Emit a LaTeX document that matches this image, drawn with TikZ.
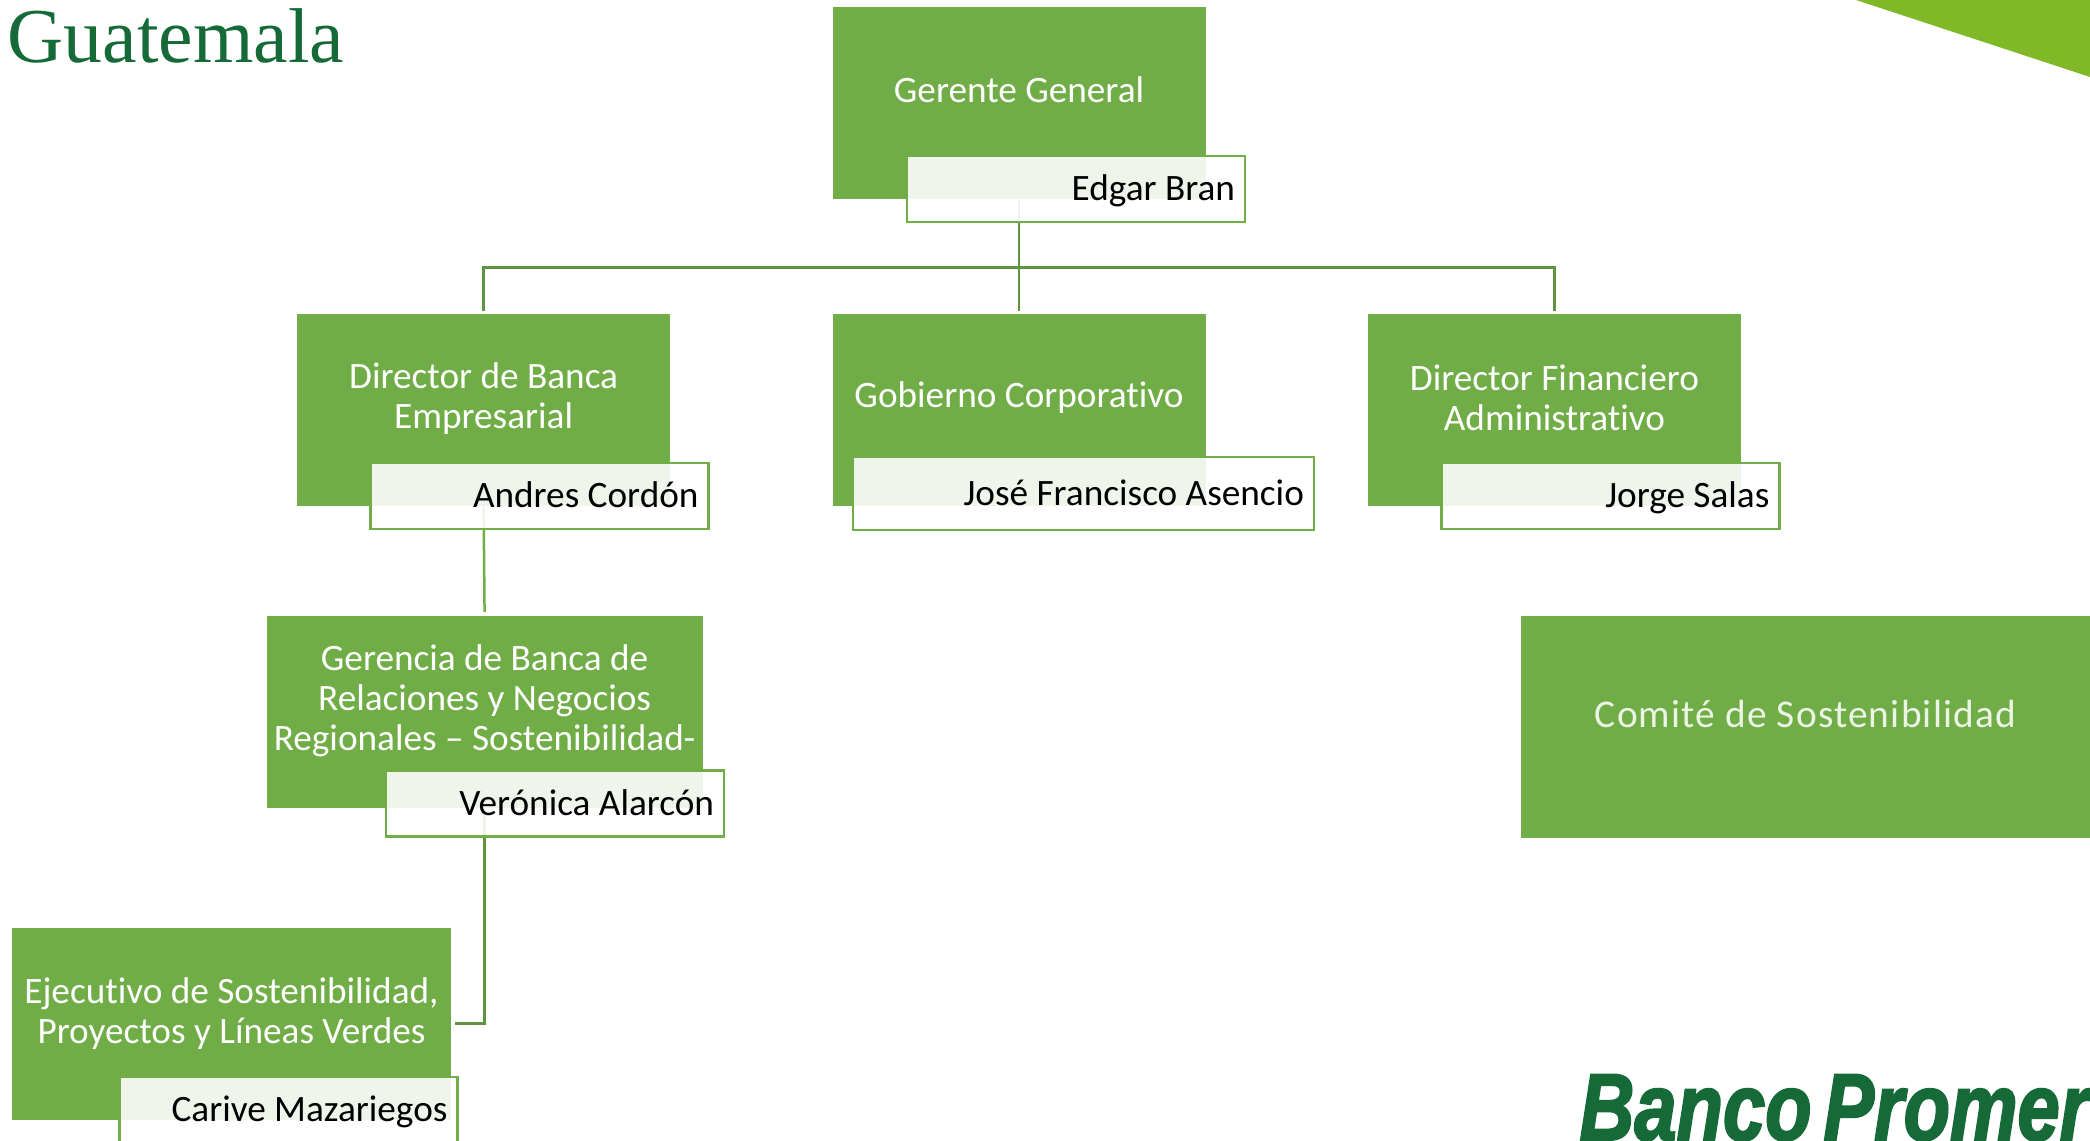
\documentclass[tikz,border=0pt]{standalone}
\usepackage{fontspec}
\setmainfont{Carlito}[Ligatures=NoCommon]
\newfontfamily\thinfont[LetterSpace=3,Ligatures=NoCommon]{Carlito}
\newfontfamily\titlefont{Liberation Serif}
\newfontfamily\logofont[FakeBold=2.5]{Liberation Sans}
\usetikzlibrary{positioning,calc}

\definecolor{boxgreen}{HTML}{70AD47}
\definecolor{linegreen}{HTML}{5F9540}
\definecolor{darkgreen}{HTML}{156A38}
\definecolor{limegreen}{HTML}{80B827}

\tikzset{
  rolebox/.style={fill=boxgreen, minimum width=3.73cm, minimum height=1.92cm, inner sep=0pt},
  roletext/.style={text=white, align=center, yshift=.13cm, inner sep=0pt,
    font=\fontsize{10.6}{11.4}\selectfont},
  namebox/.style={draw=boxgreen, line width=.025cm, fill=white, fill opacity=.89,
    draw opacity=1, text opacity=1, anchor=south east, align=flush right, inner xsep=.1cm,
    inner ysep=0pt, minimum height=.66cm, text width=3.18cm, text height=.3cm, text depth=.06cm,
    font=\fontsize{10.6}{11.4}\selectfont},
  connector/.style={draw=linegreen, line width=.025cm},
}

\begin{document}
\begin{tikzpicture}
  \useasboundingbox (0,0) rectangle (20.9,11.4);

  % Corner wedge and title
  \fill[limegreen] (18.56,11.4) -- (20.9,10.63) -- (20.9,11.4) -- cycle;
  \node[anchor=base west, inner sep=0pt, text=darkgreen,
    font=\titlefont\fontsize{22.1}{24}\selectfont] (title) at (.07,10.77) {Guatemala};

  % Define the role boxes
  \node[rolebox, label={[roletext]center:Gerente General}] (gerente) at (10.19,10.37) {};
  \node[rolebox, below=1.14cm of gerente, label={[roletext]center:Gobierno Corporativo}] (gobierno) {};
  \node[rolebox, left=1.61cm of gobierno, label={[roletext, yshift=-.01cm]center:Director de Banca\\Empresarial}] (director) {};
  \node[rolebox, right=1.61cm of gobierno, label={[roletext]center:Director Financiero\\Administrativo}] (financiero) {};
  \node[rolebox, minimum width=4.36cm, below=1.08cm of director, xshift=.01cm,
    label={[roletext, yshift=-.02cm]center:Gerencia de Banca de\\Relaciones y Negocios\\Regionales – Sostenibilidad-}] (gerencia) {};
  \node[rolebox, minimum width=4.39cm, label={[roletext, yshift=-.03cm]center:Ejecutivo de Sostenibilidad,\\Proyectos y Líneas Verdes}] (ejecutivo) at (2.315,1.165) {};
  \node[rolebox, minimum width=5.69cm, minimum height=2.22cm,
    label={[roletext, text=white!86!boxgreen, font=\thinfont\fontsize{11.2}{12}\selectfont]center:Comité de Sostenibilidad}] (comite) at (18.055,4.13) {};

  % Draw the connectors under the name boxes
  \coordinate[below=.68cm of gerente.south] (branch);
  \draw[connector, shorten >=.03cm] (gerente.south) -- (gobierno.north);
  \draw[connector, shorten >=.03cm] (branch) -| (director.north);
  \draw[connector, shorten >=.03cm] (branch) -| (financiero.north);
  \draw[connector, draw=boxgreen, shorten >=.03cm] (director.south) -- (gerencia.north);
  \draw[connector, shorten >=.03cm] (gerencia.south) |- (ejecutivo.east);

  % Name boxes
  \node[namebox] (bran) at ($(gerente.south east)+(.40,-.235)$) {Edgar Bran};
  \node[namebox] (cordon) at ($(director.south east)+(.39,-.23)$) {Andres Cordón};
  \node[namebox, text width=4.41cm, minimum height=.73cm] (asencio) at ($(gobierno.south east)+(1.09,-.24)$) {José Francisco Asencio};
  \node[namebox] (salas) at ($(financiero.south east)+(.39,-.23)$) {Jorge Salas};
  \node[namebox] (alarcon) at ($(gerencia.south east)+(.22,-.29)$) {Verónica Alarcón};
  \node[namebox] (mazariegos) at ($(ejecutivo.south east)+(.07,-.24)$) {Carive Mazariegos};

  % Logo
  \node[anchor=base west, inner sep=0pt, text=darkgreen, transform shape, xscale=.80,
    font=\logofont\bfseries\itshape\fontsize{27}{29}\selectfont] (logo) at (15.79,0) {Banco\hspace{-.12em} Promer};
\end{tikzpicture}
\end{document}
